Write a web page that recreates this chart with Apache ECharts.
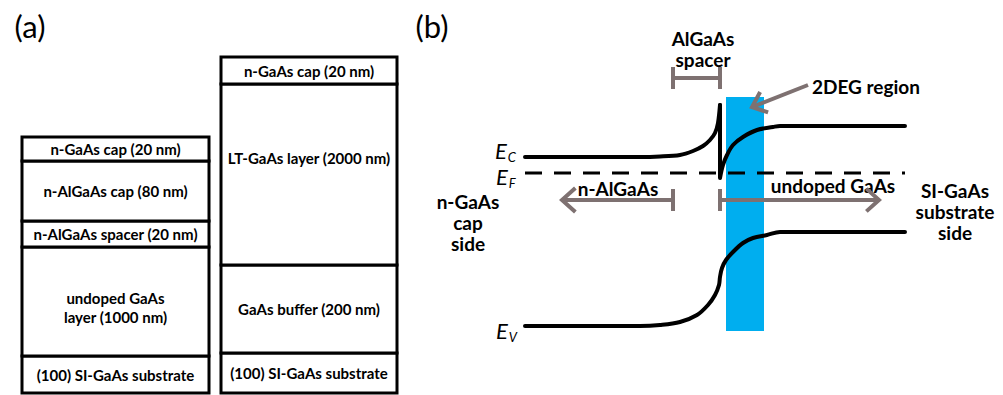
<!DOCTYPE html>
<html><head><meta charset="utf-8">
<script src="https://cdn.jsdelivr.net/npm/echarts@6/dist/echarts.min.js"></script>
<style>html,body{margin:0;padding:0;background:#fff}#c{width:1003px;height:395px}</style>
</head><body><div id="c"></div>
<script>
// ---------- Panel (a): layer stacks (schematic drawn heights, top -> bottom) ----------
const leftLayers = ['n-GaAs cap (20 nm)', 'n-AlGaAs cap (80 nm)', 'n-AlGaAs spacer (20 nm)', 'undoped GaAs\nlayer (1000 nm)', '(100) SI-GaAs substrate'];
const leftHeights = [24, 60, 26, 109, 37];
const rightLayers = ['n-GaAs cap (20 nm)', 'LT-GaAs layer (2000 nm)', 'GaAs buffer (200 nm)', '(100) SI-GaAs substrate'];
const rightHeights = [27, 181, 88, 40];

// ---------- Panel (b): band diagram, [position, energy] (arb. units) ----------
const ecLeft = [[25,238],[140,238],[160,238.5],[180,240],[193,244],[203,249],[210,255],[215,262],[218,272],[220,290]];
const ecRight = [[220,290],[220,217],[223,230],[227,240],[233,250],[243,258],[257,265],[273,268],[280,269],[405,269]];
const evBand = [[25,69],[140,69],[160,70],[180,73],[197,80],[208,90],[215,100],[219,110],[220,118],[222,127],[226,135],[233,143],[243,152],[253,157],[267,160],[280,163],[405,163]];
const efLine = [[25,222],[405,222]];
const twoDegRegion = [[226, 264, 64, 298]];
const spacerBracket = [[173,317],[220,317]];
const nAlGaAsArrow = [[173,195],[62,195]];   // [tail, tip]
const undopedArrow = [[220,195],[379,195]];
const twoDegArrow = [[308,310],[252,288]];

// ---------- layout / style ----------
const BASE = 2;
const stackX = [[22,209],[221,397]];
const labelShift = {'LT-GaAs layer (2000 nm)': -17, 'undoped GaAs\nlayer (1000 nm)': 6};
const GRAY = '#7e7171';
const TICK = 11;

function buildStack(layers, heights, idx){
  const out = []; let y = BASE;
  for (let i = layers.length - 1; i >= 0; i--) {
    out.push({value: [idx, y, y + heights[i]], name: layers[i]});
    y += heights[i];
  }
  return out;
}
const layerData = buildStack(leftLayers, leftHeights, 0).concat(buildStack(rightLayers, rightHeights, 1));

function chevron(tail, tip, len, angDeg){
  const dx = tail[0]-tip[0], dy = tail[1]-tip[1];
  const L = Math.hypot(dx, dy), ux = dx/L, uy = dy/L;
  const a = angDeg*Math.PI/180, c = Math.cos(a), s = Math.sin(a);
  const p1 = [tip[0] + len*(ux*c - uy*s), tip[1] + len*(ux*s + uy*c)];
  const p2 = [tip[0] + len*(ux*c + uy*s), tip[1] + len*(-ux*s + uy*c)];
  return [p1, tip, p2];
}
function vtick(x, y){ return [[x, y - TICK], [x, y + TICK]]; }

const grayPaths = [
  spacerBracket, vtick(spacerBracket[0][0], spacerBracket[0][1]), vtick(spacerBracket[1][0], spacerBracket[1][1]),
  nAlGaAsArrow, chevron(nAlGaAsArrow[0], nAlGaAsArrow[1], 18, 42), vtick(nAlGaAsArrow[0][0], nAlGaAsArrow[0][1]),
  undopedArrow, chevron(undopedArrow[0], undopedArrow[1], 17, 42), vtick(undopedArrow[0][0], undopedArrow[0][1]),
  twoDegArrow, chevron(twoDegArrow[0], twoDegArrow[1], 17, 40)
].map(c => ({coords: c}));

const LBL = 'Lato, "Open Sans", sans-serif';
function txt(text, x, y, font, align, lh){
  return {type: 'text', x: x, y: y, silent: true,
    style: {text: text, font: font, fill: '#000', align: align || 'center', verticalAlign: 'middle',
      textAlign: align || 'center', textVerticalAlign: 'middle', lineHeight: lh || undefined}};
}
function energyLabel(sub, x, y){
  return {type: 'text', x: x, y: y, silent: true,
    style: {text: '{e|E}{s|' + sub + '}', fill: '#000', align: 'left', verticalAlign: 'middle',
      textAlign: 'left', textVerticalAlign: 'middle',
      rich: {
        e: {font: 'italic 22px ' + LBL, fill: '#000', lineHeight: 20},
        s: {font: 'italic 13px ' + LBL, fill: '#000', lineHeight: 13, verticalAlign: 'bottom', padding: [0, 0, -3, 1]}
      }}};
}

const chart = echarts.init(document.getElementById('c'), null, {renderer: 'svg'});
const blackLine = {color: '#000', width: 4, cap: 'round', join: 'round'};
const B = 'bold 19px ' + LBL;
chart.setOption({
  animation: false,
  backgroundColor: '#fff',
  grid: [
    {left: 0, top: 0, width: 500, height: 395},
    {left: 500, top: 0, width: 503, height: 395}
  ],
  xAxis: [
    {gridIndex: 0, type: 'value', min: 0, max: 500, show: false},
    {gridIndex: 1, type: 'value', min: 0, max: 503, show: false}
  ],
  yAxis: [
    {gridIndex: 0, type: 'value', min: 0, max: 395, show: false},
    {gridIndex: 1, type: 'value', min: 0, max: 395, show: false}
  ],
  series: [
    {
      type: 'custom', xAxisIndex: 0, yAxisIndex: 0, silent: true,
      data: layerData,
      renderItem: function(params, api){
        const s = api.value(0), y0 = api.value(1), y1 = api.value(2);
        const name = layerData[params.dataIndex].name;
        const p0 = api.coord([stackX[s][0], y1]);
        const p1 = api.coord([stackX[s][1], y0]);
        return {type: 'group', children: [
          {type: 'rect', shape: {x: p0[0], y: p0[1], width: p1[0]-p0[0], height: p1[1]-p0[1]},
            style: {fill: '#fff', stroke: '#000', lineWidth: 3}},
          {type: 'text', x: (p0[0]+p1[0])/2, y: (p0[1]+p1[1])/2 + (labelShift[name] || 0),
            style: {text: name, font: 'bold 15px ' + LBL, fill: '#000', align: 'center', verticalAlign: 'middle',
              textAlign: 'center', textVerticalAlign: 'middle', lineHeight: 19}}
        ]};
      }
    },
    {
      type: 'custom', xAxisIndex: 1, yAxisIndex: 1, silent: true, z: 1,
      data: twoDegRegion,
      renderItem: function(params, api){
        const p0 = api.coord([api.value(0), api.value(3)]);
        const p1 = api.coord([api.value(1), api.value(2)]);
        return {type: 'rect', shape: {x: p0[0], y: p0[1], width: p1[0]-p0[0], height: p1[1]-p0[1]},
          style: {fill: '#00aeef'}};
      }
    },
    {type: 'line', xAxisIndex: 1, yAxisIndex: 1, data: efLine, symbol: 'none', z: 3,
      lineStyle: {color: '#000', width: 3, type: [17, 12]}},
    {type: 'line', xAxisIndex: 1, yAxisIndex: 1, data: ecLeft, symbol: 'none', smooth: 0.3, z: 4, lineStyle: blackLine},
    {type: 'line', xAxisIndex: 1, yAxisIndex: 1, data: ecRight, symbol: 'none', smooth: 0.35, z: 4, lineStyle: blackLine},
    {type: 'line', xAxisIndex: 1, yAxisIndex: 1, data: evBand, symbol: 'none', smooth: 0.35, z: 4, lineStyle: blackLine},
    {type: 'lines', coordinateSystem: 'cartesian2d', xAxisIndex: 1, yAxisIndex: 1, polyline: true, z: 5, silent: true,
      lineStyle: {color: GRAY, width: 4, opacity: 1, curveness: 0, join: 'miter'},
      data: grayPaths}
  ],
  graphic: [
    txt('(a)', 30, 26, '31px ' + LBL),
    txt('(b)', 432, 26, '31px ' + LBL),
    txt('AlGaAs\nspacer', 703, 48.5, B, 'center', 21),
    txt('2DEG region', 812, 86, B, 'left'),
    txt('n-AlGaAs', 618, 188, B),
    txt('undoped GaAs', 833, 185, B),
    txt('n-GaAs\ncap\nside', 468, 222.5, B, 'center', 21),
    txt('SI-GaAs\nsubstrate\nside', 955, 211, B, 'center', 21),
    energyLabel('C', 495, 150),
    energyLabel('F', 496, 176),
    energyLabel('V', 496, 330)
  ]
});
</script>
</body></html>
